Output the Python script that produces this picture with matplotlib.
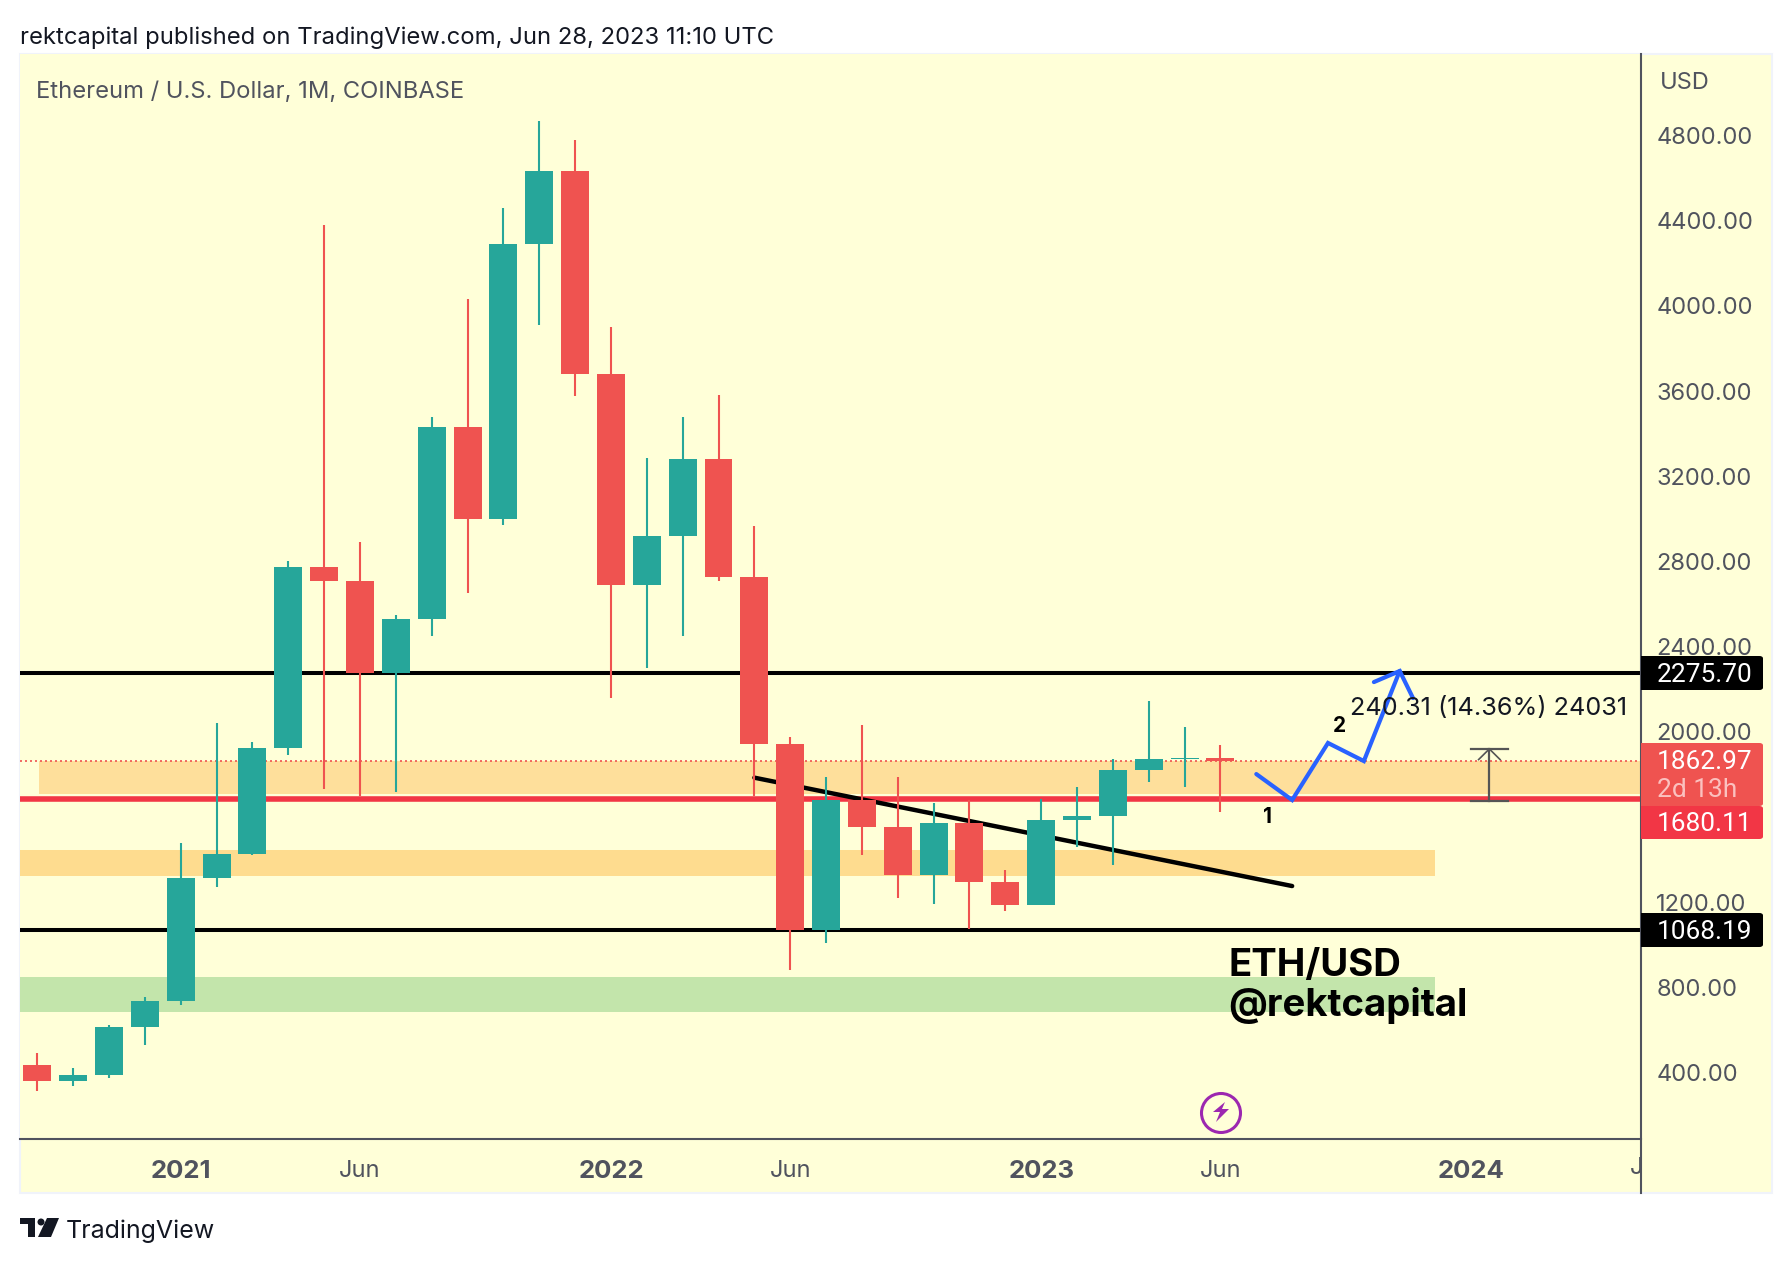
import matplotlib
matplotlib.use('Agg')
import matplotlib.pyplot as plt
from matplotlib.patches import Rectangle, Polygon, Circle, FancyBboxPatch
from matplotlib.transforms import Bbox, TransformedBbox

plt.rcParams['font.family'] = ['Inter', 'DejaVu Sans']

W, H = 1792, 1264
GREEN, RED = '#26A69A', '#EF5350'
BG = '#FFFFD8'
AXIS = '#50535E'

# monthly candles, Sep 2020 to Jun 2023
opens = [434, 360, 386, 615, 737, 1314, 1425, 1925, 2772, 2708, 2275, 2531, 3430, 3000, 4290, 4635, 3680,
         2690, 2920, 3280, 2725, 1940, 1068, 1680, 1552, 1328, 1570, 1295, 1187, 1585, 1605, 1822, 1870, 1875]
highs = [491, 420, 622, 755, 1475, 2040, 1950, 2800, 4380, 2890, 2550, 3480, 4030, 4460, 4868, 4780, 3900,
         3285, 3480, 3580, 2965, 1975, 1785, 2030, 1785, 1665, 1680, 1350, 1684, 1740, 1872, 2144, 2022, 1937]
lows = [312, 335, 372, 530, 715, 1270, 1420, 1890, 1730, 1700, 1717, 2450, 2650, 2970, 3910, 3575, 2160,
        2300, 2450, 2710, 1700, 880, 1008, 1420, 1220, 1190, 1075, 1160, 1185, 1460, 1372, 1763, 1741, 1622]
closes = [360, 386, 615, 737, 1314, 1425, 1925, 2772, 2708, 2275, 2531, 3430, 3000, 4290, 4635, 3680, 2690,
          2920, 3280, 2725, 1940, 1068, 1680, 1552, 1328, 1570, 1295, 1187, 1585, 1605, 1822, 1872, 1875, 1863]

price_ticks = [400, 800, 1200, 1600, 2000, 2400, 2800, 3200, 3600, 4000, 4400, 4800]
month_ticks = [4, 9, 16, 21, 28, 33, 40]
month_labels = ['2021', 'Jun', '2022', 'Jun', '2023', 'Jun', '2024']
bold_years = ['2021', '2022', '2023', '2024']
cut_label_x, cut_label = 45, 'Jun'

level_high, level_low, level_red, last_price = 2275.70, 1068.19, 1680.11, 1862.97

# drawings on the chart, (bar index, price)
trend_x, trend_y = [20.0, 35.0], [1784, 1275]
path_x = [34.0, 35.0, 36.0, 37.0, 38.0]
path_y = [1801, 1679, 1947, 1862, 2285]
head_x = [37.28, 38.0, 38.37]
head_y = [2233, 2285, 2158]
measure_x, measure_top, measure_bottom = 40.5, 1919, 1676


def fx(x):
    return x / W


def fy(y):
    return 1 - y / H


fig = plt.figure(figsize=(W / 100, H / 100), dpi=100, facecolor='white')
fig.add_artist(Rectangle((fx(20), fy(1193)), fx(1752), 1139 / H, transform=fig.transFigure,
                         fc=BG, ec='#F0F3FA', lw=1.5, zorder=-1))

ax = fig.add_axes([fx(20), fy(1139), fx(1621), 1085 / H], facecolor=BG)

# zones and levels behind the candles
ax.axhspan(1705, 1864, xmin=0.0118, color='#FEDF9B', lw=0, zorder=1)
ax.axhspan(1322, 1444, xmax=0.873, color='#FEDC8F', lw=0, zorder=1)
ax.axhspan(684, 848, xmax=0.873, color='#C3E5AB', lw=0, zorder=1)
ax.axhline(level_high, color='black', lw=2.9, zorder=1.5)
ax.axhline(level_low, color='black', lw=2.9, zorder=1.5)
ax.axhline(level_red + 5, color='#F23645', lw=4, zorder=1.5)
ax.axhline(last_price, color=RED, lw=1.2, ls=(0, (1.2, 1.8)), zorder=1.5)
ax.plot(trend_x, trend_y, color='black', lw=3.2, solid_capstyle='round', zorder=1.8)

# candles
x = list(range(len(opens)))
colors = [GREEN if c >= o else RED for o, c in zip(opens, closes)]
ax.vlines(x, lows, highs, colors=colors, lw=1.5, zorder=3)
ax.bar(x, [abs(c - o) for o, c in zip(opens, closes)], bottom=[min(o, c) for o, c in zip(opens, closes)],
       width=0.78, color=colors, lw=0, zorder=3)

# measure tool
ax.plot([measure_x, measure_x], [measure_bottom, measure_top], color='#555555', lw=1.6, zorder=4)
for p in (measure_bottom, measure_top):
    ax.plot([measure_x - 0.52, measure_x + 0.52], [p, p], color='#555555', lw=1.6, zorder=4)
ax.plot([measure_x - 0.3, measure_x, measure_x + 0.3], [measure_top - 50, measure_top, measure_top - 50],
        color='#555555', lw=1.2, zorder=4)

# blue path
ax.plot(path_x, path_y, color='#2962FF', lw=3, solid_capstyle='round', solid_joinstyle='miter', zorder=5)
ax.plot(head_x, head_y, color='#2962FF', lw=3, solid_capstyle='round', solid_joinstyle='miter', zorder=5)

ax.text(34.3, 1600, '1', fontsize=15, fontweight='bold', color='black', ha='center', va='center', zorder=5)
ax.text(36.33, 2027, '2', fontsize=15, fontweight='bold', color='black', ha='center', va='center', zorder=5)
ax.text(36.62, 2107, '240.31 (14.36%) 24031', fontsize=18.2, color='#131722', ha='left', va='center', zorder=5)
ax.text(33.22, 898, 'ETH/USD', fontsize=27.6, fontweight='bold', color='black', ha='left', va='center', zorder=5)
ax.text(33.22, 712, '@rektcapital', fontsize=27.6, fontweight='bold', color='black', ha='left', va='center', zorder=5)

# axes
for side in ('top', 'left'):
    ax.spines[side].set_visible(False)
ax.spines['bottom'].set_color(AXIS)
ax.spines['bottom'].set_linewidth(1.5)
ax.spines['right'].set_visible(False)
fig.add_artist(plt.Line2D([fx(1641), fx(1641)], [fy(54), fy(1193)], color=AXIS, lw=1.5, zorder=2))

ax.yaxis.tick_right()
ax.set_yticks(price_ticks)
ax.set_yticklabels(['%.2f' % p for p in price_ticks], fontsize=17, color=AXIS)
ax.tick_params(axis='y', length=0, pad=11)
ax.set_xticks(month_ticks)
ax.set_xticklabels(month_labels, fontsize=17, color=AXIS)
ax.tick_params(axis='x', length=0, pad=15)
for lbl in ax.get_xticklabels():
    if lbl.get_text() in bold_years:
        lbl.set_fontweight('bold')
        lbl.set_fontsize(18.5)

ax.set_xlim(-0.483, 44.73)
ax.set_ylim(86.9, 5183)

# the next Jun label falls on the price axis and gets cut there
cut = ax.text(cut_label_x, -29 / 1085, cut_label, fontsize=17, color=AXIS, ha='center', va='center',
              transform=ax.get_xaxis_transform(), clip_on=True)
cut.set_clip_box(TransformedBbox(Bbox([[0, -1], [1, 1]]), ax.transAxes))


def price_tag(top, bottom, color):
    fig.add_artist(FancyBboxPatch((fx(1641), fy(bottom)), 122 / W, (bottom - top) / H,
                                  boxstyle='round,pad=0,rounding_size=0.002', transform=fig.transFigure,
                                  fc=color, ec='none', zorder=3))
    fig.add_artist(Rectangle((fx(1641), fy(bottom)), 20 / W, (bottom - top) / H, transform=fig.transFigure,
                             fc=color, ec='none', zorder=3))


def tag_text(y, s, color='white'):
    fig.text(fx(1657), fy(y + 2), s, fontsize=18.9, family='Roboto', color=color, ha='left', va='center', zorder=4)


price_tag(656, 690, 'black')
tag_text(673, '%.2f' % level_high)
price_tag(913, 947, 'black')
tag_text(930, '%.2f' % level_low)
price_tag(743, 806, RED)
tag_text(760, '%.2f' % last_price)
tag_text(788, '2d 13h', '#FBC1BF')
price_tag(806, 839, '#F23645')
tag_text(822, '%.2f' % level_red)

# header, footer and icons
fig.text(fx(20), fy(38), 'rektcapital published on TradingView.com, Jun 28, 2023 11:10 UTC',
         fontsize=17.15, color='#131722', ha='left', va='center')
fig.text(fx(36), fy(92), 'Ethereum / U.S. Dollar, 1M, COINBASE', fontsize=17.1, color=AXIS, ha='left', va='center')
fig.text(fx(1660), fy(83), 'USD', fontsize=17, color=AXIS, ha='left', va='center')
fig.text(fx(66), fy(1231), 'TradingView', fontsize=18, color='#131722', ha='left', va='center')

logo = [[(20, 1218), (35, 1218), (35, 1237), (28, 1237), (28, 1224), (20, 1224)],
        [(47, 1218), (59, 1218), (51, 1237), (38, 1237)]]
for pts in logo:
    fig.add_artist(Polygon([(fx(a), fy(b)) for a, b in pts], transform=fig.transFigure, fc='#131722', ec='none'))
icon_ax = fig.add_axes([0, 0, 1, 1], facecolor='none')
icon_ax.set_xlim(0, W)
icon_ax.set_ylim(H, 0)
icon_ax.axis('off')
icon_ax.add_patch(Circle((41, 1222), 3.5, fc='#131722', ec='none'))
icon_ax.add_patch(Circle((1221, 1113), 19.5, fc=BG, ec='#9C27B0', lw=2.2))
icon_ax.add_patch(Polygon([(1225, 1102), (1213, 1112), (1220, 1112), (1216, 1122), (1229, 1109), (1222, 1109)],
                          fc='#9C27B0', ec='none'))

fig.savefig('out.png', dpi=100)
